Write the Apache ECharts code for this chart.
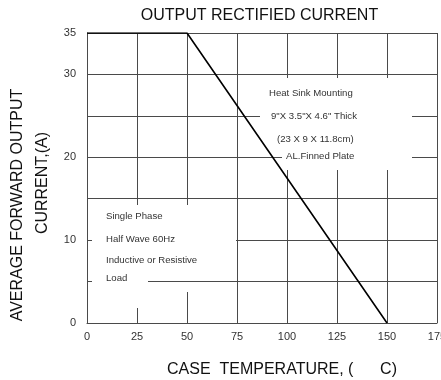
<!DOCTYPE html>
<html>
<head>
<meta charset="utf-8">
<script src="https://cdn.jsdelivr.net/npm/echarts@6/dist/echarts.min.js"></script>
<style>html,body{margin:0;padding:0;background:#fff}#c{width:441px;height:380px}</style>
</head>
<body>
<div id="c"></div>
<script>
var temps = [0, 50, 150];
var currents = [35, 35, 0];
var yLabels = [0, 10, 20, 30, 35];
var titleText = 'OUTPUT RECTIFIED CURRENT';
var xName = 'CASE  TEMPERATURE, (      C)';
var yName1 = 'AVERAGE FORWARD OUTPUT';
var yName2 = 'CURRENT,(A)';
var noteRight = ['Heat Sink Mounting', '9"X 3.5"X 4.6" Thick', '(23 X 9 X 11.8cm)', 'AL.Finned Plate'];
var noteLeft = ['Single Phase', 'Half Wave 60Hz', 'Inductive or Resistive', 'Load'];

var FONT = '"Liberation Sans", Arial, sans-serif';
var chart = echarts.init(document.getElementById('c'), null, {renderer: 'canvas'});
var gridCol = '#4a4a4a';

function txt(t, x, y, opts) {
  return Object.assign({
    type: 'text', z: 10, x: x, y: y,
    style: {text: t, fill: '#333', font: '9.6px ' + FONT, align: 'left', verticalAlign: 'middle'}
  }, opts || {});
}
var rightX = [269, 271, 277, 286], rightY = [93, 116, 139, 156];
var leftY = [216, 239, 260, 278];
var graphics = [
  {type: 'rect', z: 1, shape: {x: 260, y: 78, width: 152, height: 62}, style: {fill: '#fff'}},
  {type: 'rect', z: 1, shape: {x: 282, y: 140, width: 130, height: 30}, style: {fill: '#fff'}},
  {type: 'rect', z: 1, shape: {x: 92, y: 205, width: 144, height: 87}, style: {fill: '#fff'}},
  {type: 'rect', z: 1, shape: {x: 92, y: 292, width: 56, height: 16}, style: {fill: '#fff'}},
  txt(titleText, 259.5, 16, {style: {text: titleText, fill: '#111', font: '16px ' + FONT, align: 'center', verticalAlign: 'middle'}}),
  txt(xName, 282, 370, {style: {text: xName, fill: '#111', font: '16px ' + FONT, align: 'center', verticalAlign: 'middle'}}),
  txt(yName1, 18, 205, {rotation: Math.PI / 2, style: {text: yName1, fill: '#111', font: '16px ' + FONT, align: 'center', verticalAlign: 'middle'}}),
  txt(yName2, 43, 183, {rotation: Math.PI / 2, style: {text: yName2, fill: '#111', font: '16px ' + FONT, align: 'center', verticalAlign: 'middle'}})
];
noteRight.forEach(function (t, i) { graphics.push(txt(t, rightX[i], rightY[i])); });
noteLeft.forEach(function (t, i) { graphics.push(txt(t, 106, leftY[i])); });

chart.setOption({
  animation: false,
  backgroundColor: '#fff',
  grid: {left: 87, right: 4, top: 33, bottom: 57, containLabel: false, outerBoundsMode: 'none'},
  xAxis: {
    type: 'value', min: 0, max: 175, interval: 25,
    axisLine: {show: true, lineStyle: {color: gridCol, width: 1}},
    axisTick: {show: false},
    axisLabel: {color: '#333', fontSize: 11, fontFamily: FONT, margin: 8},
    splitLine: {show: true, lineStyle: {color: gridCol, width: 1}}
  },
  yAxis: {
    type: 'value', min: 0, max: 35, interval: 5,
    axisLine: {show: true, lineStyle: {color: gridCol, width: 1}},
    axisTick: {show: false},
    axisLabel: {
      color: '#333', fontSize: 11, fontFamily: FONT, margin: 11,
      formatter: function (v) { return yLabels.indexOf(v) >= 0 ? String(v) : ''; }
    },
    splitLine: {show: true, lineStyle: {color: gridCol, width: 1}}
  },
  series: [{
    type: 'line', z: 5, symbol: 'none',
    data: temps.map(function (t, i) { return [t, currents[i]]; }),
    lineStyle: {color: '#000', width: 1.6},
    markLine: {
      silent: true, symbol: 'none', label: {show: false},
      lineStyle: {color: gridCol, width: 1, type: 'solid'},
      data: [[{coord: [30.5, 5]}, {coord: [75, 5]}]]
    }
  }],
  graphic: graphics
});
</script>
</body>
</html>
